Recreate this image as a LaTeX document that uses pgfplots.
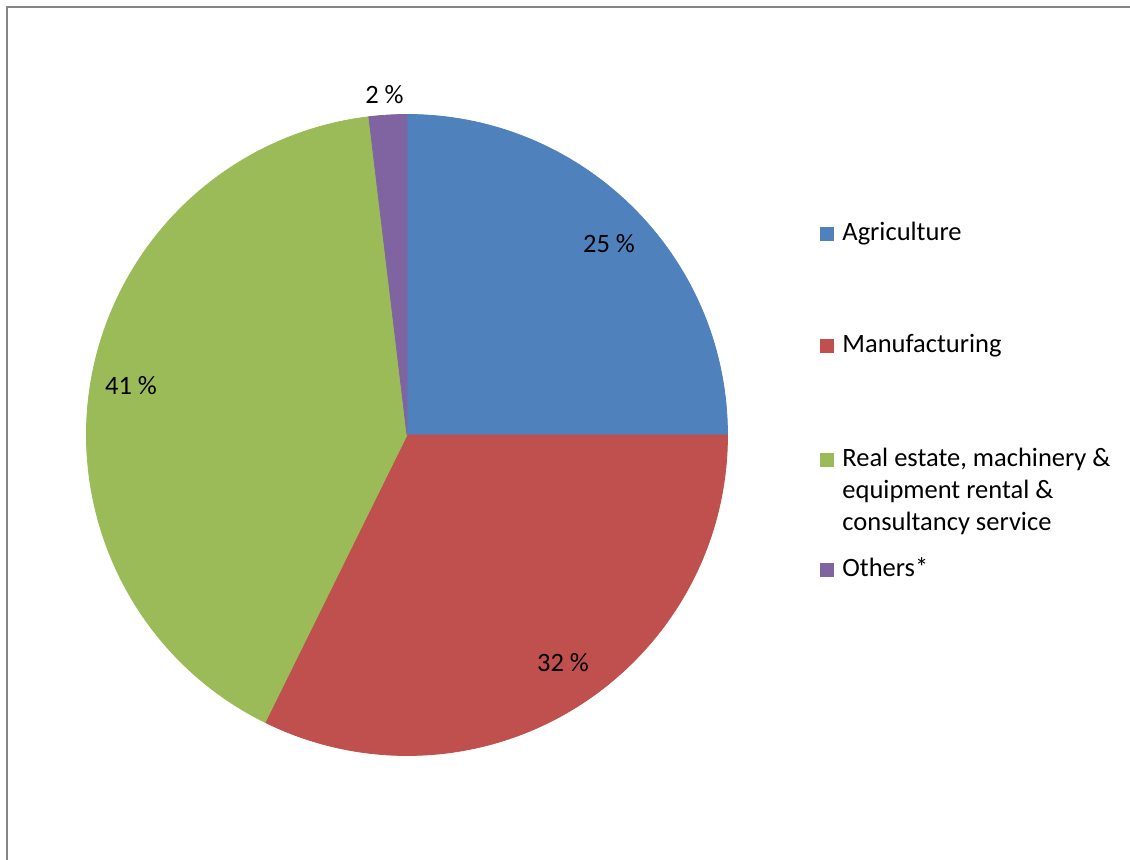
\documentclass[border=0pt]{standalone}
\usepackage{pgfplots}
\usepackage{pgfplotstable}
\pgfplotsset{compat=1.18}
\usepackage{fontspec}
\setmainfont{Carlito}

\definecolor{slice0}{RGB}{79,129,189}
\definecolor{slice1}{RGB}{192,80,77}
\definecolor{slice2}{RGB}{155,187,89}
\definecolor{slice3}{RGB}{128,100,162}
\definecolor{framegray}{RGB}{134,134,134}

% share in percent, printed label,
% label centre in px (y counted from the bottom)
\pgfplotstableread{
name  pct  lab k lx    ly
Agri  25   25  0 609   616.5
Manu  32.3 32  1 563   197
Real  40.8 41  2 131   474
Other 1.9  2   3 384.5 765
}\piedata
\pgfplotstablecreatecol[expr accum={\pgfmathaccuma + \thisrow{pct}}{0}]{cum}{\piedata}

\def\R{160.25pt}
\newcommand\lbl{\fontsize{13.25}{16}\selectfont}

\begin{document}
\begin{tikzpicture}
\begin{axis}[
    x=0.5pt, y=0.5pt,
    xmin=0, xmax=1130, ymin=0, ymax=860,
    hide axis,
    clip=false,
]
    % slices, clockwise from 12 o'clock
    \addplot[
        scatter, only marks, mark=text, text mark={},
        visualization depends on={90-3.6*(\thisrow{cum}-\thisrow{pct}) \as \aStart},
        visualization depends on={90-3.6*\thisrow{cum} \as \aEnd},
        visualization depends on={\thisrow{k} \as \kk},
        scatter/@pre marker code/.code={%
            \pgfmathtruncatemacro\ci{\kk}%
            \fill[slice\ci] (0,0) -- (\aStart:\R)
                arc[start angle=\aStart, end angle=\aEnd, radius=\R] -- cycle;},
        scatter/@post marker code/.code={},
    ] table[x expr=407, y expr=425] {\piedata};

    % data labels
    \addplot[
        draw=none, mark=none,
        point meta=explicit symbolic,
        nodes near coords={\pgfplotspointmeta\ \%},
        nodes near coords style={anchor=center, inner sep=0pt, font=\lbl},
    ] table[x=lx, y=ly, meta=lab] {\piedata};

    % legend
    \fill[slice0] (axis cs:820,619) rectangle (axis cs:834,633);
    \node[anchor=base west, inner sep=0pt, font=\lbl] at (axis cs:842,619) {Agriculture};
    \fill[slice1] (axis cs:820,507) rectangle (axis cs:834,521);
    \node[anchor=base west, inner sep=0pt, font=\lbl] at (axis cs:842,507) {Manufacturing};
    \fill[slice2] (axis cs:820,393) rectangle (axis cs:834,407);
    \node[anchor=base west, inner sep=0pt, font=\lbl] at (axis cs:842,393) {Real estate, machinery \&};
    \node[anchor=base west, inner sep=0pt, font=\lbl] at (axis cs:842,361) {equipment rental \&};
    \node[anchor=base west, inner sep=0pt, font=\lbl] at (axis cs:842,329) {consultancy service};
    \fill[slice3] (axis cs:820,283) rectangle (axis cs:834,297);
    \node[anchor=base west, inner sep=0pt, font=\lbl] at (axis cs:842,283) {Others*};

    % chart frame (runs off the right and bottom edges)
    \draw[framegray, line width=1pt] (axis cs:7,0) -- (axis cs:7,853) -- (axis cs:1130,853);
\end{axis}
\pgfresetboundingbox
\path (0,0) rectangle (565pt,430pt);
\end{tikzpicture}
\end{document}
